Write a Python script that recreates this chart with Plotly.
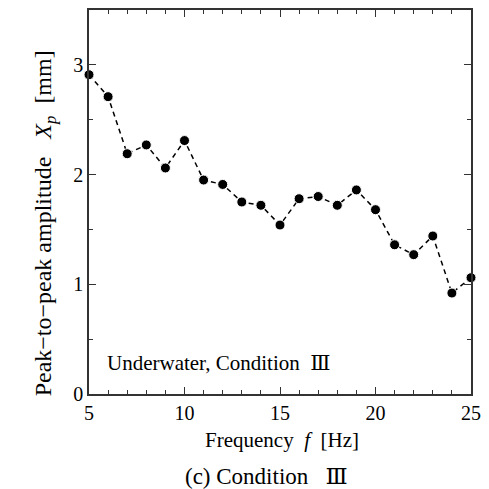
import plotly.graph_objects as go

# Measured peak-to-peak amplitude versus excitation frequency
frequency_hz = [5, 6, 7, 8, 9, 10, 11, 12, 13, 14, 15, 16, 17, 18, 19, 20, 21, 22, 23, 24, 25]
amplitude_mm = [2.91, 2.71, 2.19, 2.27, 2.06, 2.31, 1.95, 1.91, 1.75, 1.72, 1.54,
                1.78, 1.80, 1.72, 1.86, 1.68, 1.36, 1.27, 1.44, 0.92, 1.06]

x_ticks = [5, 10, 15, 20, 25]
y_ticks = [0, 1, 2, 3]

FONT = "Liberation Serif, Times New Roman, serif"
ROMAN = '<span style="font-family:DejaVu Serif">\u2162</span>'
AXIS_COLOR = "#333333"

W, H = 489, 489
L, R, T, B = 89, 14, 8, 95
plot_w = W - L - R
plot_h = H - T - B


def px_to_paper(px, py):
    return (px - L) / plot_w, (H - B - py) / plot_h


fig = go.Figure()
fig.add_trace(go.Scatter(
    x=frequency_hz,
    y=amplitude_mm,
    mode="lines+markers",
    line=dict(color="black", width=1.5, dash="5px,4px"),
    marker=dict(color="black", size=10, line=dict(color="white", width=1)),
    showlegend=False,
    cliponaxis=False,
))

axis_common = dict(
    showline=True,
    linecolor=AXIS_COLOR,
    linewidth=1.5,
    mirror="allticks",
    ticks="inside",
    ticklen=7,
    tickwidth=1,
    tickcolor=AXIS_COLOR,
    showgrid=False,
    zeroline=False,
    tickfont=dict(family=FONT, size=20, color="black"),
)

fig.update_xaxes(
    range=[5, 25],
    tickvals=x_ticks,
    minor=dict(dtick=1, ticks="inside", ticklen=4, tickcolor=AXIS_COLOR, tickwidth=1),
    **axis_common,
)
fig.update_yaxes(
    range=[0, 3.5],
    tickvals=y_ticks,
    minor=dict(dtick=0.5, ticks="inside", ticklen=4, tickcolor=AXIS_COLOR, tickwidth=1),
    **axis_common,
)

# axis titles and labels
ax, ay = px_to_paper(284, 440)
fig.add_annotation(
    x=ax, y=ay, xref="paper", yref="paper", xanchor="center", yanchor="middle",
    text="Frequency \u00a0<i>f</i>\u00a0 [Hz]", showarrow=False,
    font=dict(family=FONT, size=21, color="black"),
)
ax, ay = px_to_paper(44, 222)
fig.add_annotation(
    x=ax, y=ay, xref="paper", yref="paper", xanchor="center", yanchor="middle",
    textangle=-90,
    text="Peak\u2212to\u2212peak amplitude \u00a0\u00a0<i>X<sub>p</sub></i>\u00a0 [mm]",
    showarrow=False,
    font=dict(family=FONT, size=24, color="black"),
)
ax, ay = px_to_paper(105, 363)
fig.add_annotation(
    x=ax, y=ay, xref="paper", yref="paper", xanchor="left", yanchor="middle",
    text="Underwater, Condition \u00a0" + ROMAN, showarrow=False,
    font=dict(family=FONT, size=21, color="black"),
)
ax, ay = px_to_paper(268, 476)
fig.add_annotation(
    x=ax, y=ay, xref="paper", yref="paper", xanchor="center", yanchor="middle",
    text="(c) Condition \u00a0\u00a0" + ROMAN, showarrow=False,
    font=dict(family=FONT, size=23, color="black"),
)

fig.update_layout(
    width=W,
    height=H,
    margin=dict(l=L, r=R, t=T, b=B),
    paper_bgcolor="white",
    plot_bgcolor="white",
    font=dict(family=FONT, color="black"),
)

fig.write_html("out.html")
